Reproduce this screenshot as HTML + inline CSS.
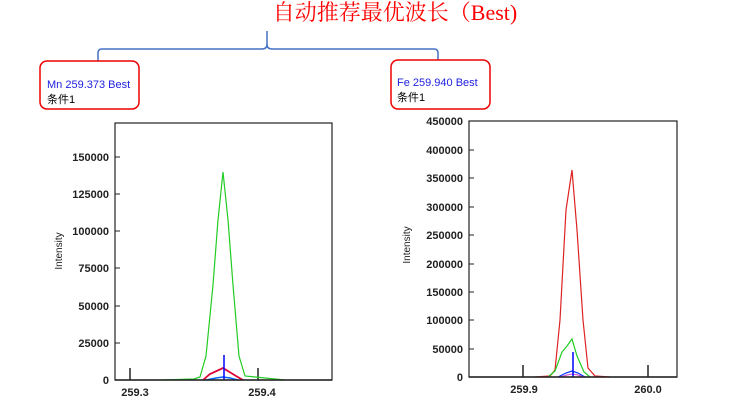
<!DOCTYPE html>
<html><head><meta charset="utf-8"><style>
html,body{margin:0;padding:0;background:#fff;width:748px;height:405px;overflow:hidden}
svg{display:block}
</style></head><body>
<svg width="748" height="405" xmlns="http://www.w3.org/2000/svg" font-family="Liberation Sans, Noto Sans CJK SC, sans-serif">
<text x="395" y="20" text-anchor="middle" fill="#f00" font-size="22" font-family="Liberation Serif, Noto Serif CJK SC, serif">自动推荐最优波长（Best)</text>
<path d="M98,64 L98,53 Q98,49 102,49 L262,49 Q267,49 267,44 L267,31 M267,31 L267,44 Q267,49 272,49 L434,49 Q438,49 438,53 L438,62" fill="none" stroke="#4472c4" stroke-width="1.5"/>
<rect x="40" y="61" width="99" height="48" rx="7" fill="#fff" stroke="#e00" stroke-width="1.5"/>
<text x="47" y="88" fill="#2020e0" font-size="11">Mn 259.373 Best</text>
<text x="47" y="103" fill="#000" font-size="11">条件1</text>
<rect x="391" y="60" width="99" height="49" rx="7" fill="#fff" stroke="#e00" stroke-width="1.5"/>
<text x="397" y="86" fill="#2020e0" font-size="11">Fe 259.940 Best</text>
<text x="397" y="101" fill="#000" font-size="11">条件1</text>

<!-- left chart -->
<rect x="115" y="123" width="217" height="257" fill="none" stroke="#222" stroke-width="1.2"/>
<g font-size="11" fill="#222" text-anchor="end" font-weight="bold">
<text x="109" y="384">0</text><text x="109" y="347">25000</text><text x="109" y="310">50000</text><text x="109" y="272">75000</text><text x="109" y="235">100000</text><text x="109" y="198">125000</text><text x="109" y="161">150000</text>
</g>
<text transform="translate(62,251) rotate(-90)" font-size="10" text-anchor="middle" fill="#222">Intensity</text>
<g stroke="#222" stroke-width="1"><path d="M115,380h5M115,343h5M115,306h5M115,268h5M115,231h5M115,194h5M115,157h5"/></g>
<path d="M130,380v-12M258,380v-12" stroke="#222" stroke-width="1.5"/>
<g font-size="11" fill="#222" font-weight="bold" text-anchor="middle"><text x="135" y="396">259.3</text><text x="262" y="396">259.4</text></g>
<polyline fill="none" stroke="#2c2" stroke-width="1.2" points="162,380 194,379 200,377 206,356 213,285 218,220 223,172 228,220 233,285 239,356 245,376 285,380"/>
<polyline fill="none" stroke="#d03" stroke-width="1.8" points="203,380 210,374 223,368 236,376 243,380"/>
<polyline fill="none" stroke="#06f" stroke-width="1.5" points="206,380 216,378 223,377 230,378 238,380"/>
<path d="M224,380V355" stroke="#00f" stroke-width="1.5"/>
<path d="M115,380h217" stroke="#222" stroke-width="1.5"/>

<!-- right chart -->
<rect x="469" y="121" width="208" height="256" fill="none" stroke="#222" stroke-width="1.2"/>
<g font-size="11" fill="#222" text-anchor="end" font-weight="bold">
<text x="463" y="381">0</text><text x="463" y="353">50000</text><text x="463" y="324">100000</text><text x="463" y="296">150000</text><text x="463" y="268">200000</text><text x="463" y="239">250000</text><text x="463" y="211">300000</text><text x="463" y="182">350000</text><text x="463" y="154">400000</text><text x="463" y="125">450000</text>
</g>
<text transform="translate(410,245) rotate(-90)" font-size="10" text-anchor="middle" fill="#222">Intensity</text>
<g stroke="#222" stroke-width="1"><path d="M469,377h5M469,349h5M469,320h5M469,292h5M469,264h5M469,235h5M469,207h5M469,178h5M469,150h5M469,121h5"/></g>
<path d="M523,377v-12M648,377v-12" stroke="#222" stroke-width="1.5"/>
<g font-size="11" fill="#222" font-weight="bold" text-anchor="middle"><text x="524" y="393">259.9</text><text x="648" y="393">260.0</text></g>
<polyline fill="none" stroke="#d22" stroke-width="1.2" points="535,377 550,376 555,370 560,320 566,210 572,170 577,230 583,320 588,368 595,376 610,377"/>
<polyline fill="none" stroke="#2c2" stroke-width="1.2" points="548,377 555,371 562,352 567,346 572,339 577,356 584,372 590,377"/>
<polyline fill="none" stroke="#03f" stroke-width="1.2" points="558,377 566,373 572,371 578,373 585,377"/>
<polyline fill="none" stroke="#c4c" stroke-width="1" points="560,377 567,375 572,374 578,375 584,377"/>
<path d="M573,377V352" stroke="#00f" stroke-width="1.5"/>
<path d="M469,377h208" stroke="#222" stroke-width="1.5"/>
</svg>
</body></html>
